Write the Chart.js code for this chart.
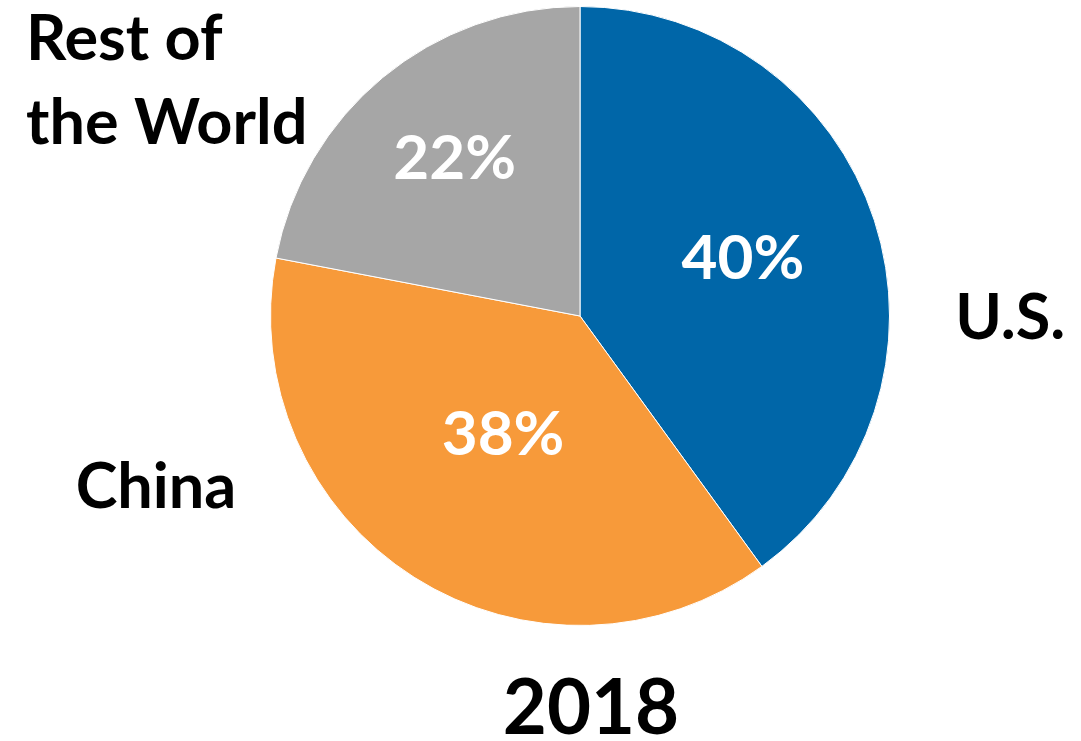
<!DOCTYPE html>
<html>
<head>
<meta charset="utf-8">
<style>
  html, body { margin: 0; padding: 0; background: #fff; }
  canvas { display: block; }
</style>
<script src="https://cdn.jsdelivr.net/npm/chart.js@4/dist/chart.umd.min.js"></script>
</head>
<body>
<canvas id="pieChart" width="1081" height="741"></canvas>
<script>
// data
const categories = ["U.S.", "China", "Rest of the World"];
const shares = [40, 38, 22];
const year = "2018";

const sliceColors = ["#0066A8", "#F79A3A", "#A6A6A6"];
const fontFamily = "Lato, 'Open Sans', sans-serif";

// where each percentage sits along its slice's middle angle (fraction of radius)
const pctRadius = [0.55, 0.47, 0.64];
// outside category labels, placed relative to the pie centre in radius units
const outsideLabels = [
  { lines: ["U.S."], dx: 1.39, dy: 0.015, align: "center" },
  { lines: ["China"], dx: -1.37, dy: 0.56, align: "center" },
  { lines: ["Rest of", "the World"], dx: -1.79, dy: -0.885, align: "left" },
];

//plugin that writes the labels on and around the pie
const labelPlugin = {
  id: "pieLabels",
  afterDraw(chart) {
    const ctx = chart.ctx;
    const arcs = chart.getDatasetMeta(0).data;
    const cx = arcs[0].x;
    const cy = arcs[0].y;
    const r = arcs[0].outerRadius;

    ctx.save();
    ctx.textBaseline = "middle";

    // percentages inside slices
    ctx.fillStyle = "#fff";
    ctx.textAlign = "center";
    ctx.font = "bold 62px " + fontFamily;
    arcs.forEach((arc, i) => {
      let mid = (arc.startAngle + arc.endAngle) / 2;
      let x = cx + Math.cos(mid) * r * pctRadius[i];
      let y = cy + Math.sin(mid) * r * pctRadius[i];
      ctx.fillText(shares[i] + "%", x + 1, y - 4);
    });

    // category names outside
    ctx.fillStyle = "#000";
    ctx.font = "bold 63px " + fontFamily;
    outsideLabels.forEach((lab) => {
      ctx.textAlign = lab.align;
      let x = cx + lab.dx * r;
      let y = cy + lab.dy * r;
      lab.lines.forEach((line, k) => {
        ctx.fillText(line, x, y - 2 + k * 84);
      });
    });

    // year underneath
    ctx.textAlign = "center";
    ctx.font = "bold 76px " + fontFamily;
    ctx.fillText(year, cx + 11, cy + r + 84);

    ctx.restore();
  },
};

new Chart(document.getElementById("pieChart"), {
  type: "pie",
  data: {
    labels: categories,
    datasets: [
      {
        data: shares,
        backgroundColor: sliceColors,
        borderColor: "#ffffff",
        borderWidth: 1,
      },
    ],
  },
  options: {
    responsive: false,
    animation: false,
    layout: {
      padding: { left: 270, right: 191, top: 6, bottom: 115 },
    },
    plugins: {
      legend: { display: false },
      tooltip: { enabled: false },
    },
  },
  plugins: [labelPlugin],
});
</script>
</body>
</html>
